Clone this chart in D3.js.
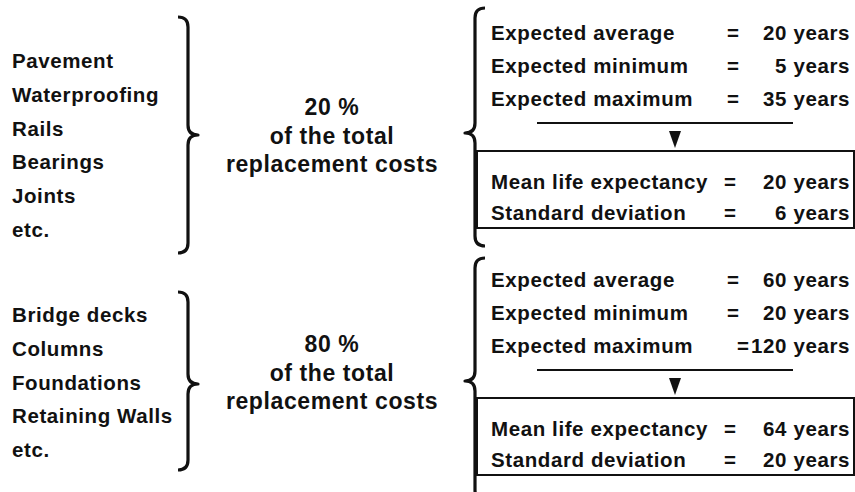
<!DOCTYPE html>
<html>
<head>
<meta charset="utf-8">
<script src="https://cdn.jsdelivr.net/npm/d3@7"></script>
<style>
  body { margin: 0; background: #fff; }
  svg text { font-family: 'Liberation Sans', Arial, sans-serif; font-weight: bold; fill: #111; }
</style>
</head>
<body>
<div id="vis"></div>
<script>
// component groups
var topItems = ['Pavement', 'Waterproofing', 'Rails', 'Bearings', 'Joints', 'etc.'];
var bottomItems = ['Bridge decks', 'Columns', 'Foundations', 'Retaining Walls', 'etc.'];
var shares = ['20 %', '80 %'];
var shareText = ['of the total', 'replacement costs'];

// expected lives (years)
var statLabels = ['Expected average', 'Expected minimum', 'Expected maximum'];
var topStats = [20, 5, 35];
var bottomStats = [60, 20, 120];

// resulting distribution (years)
var resultLabels = ['Mean life expectancy', 'Standard deviation'];
var topResults = [20, 6];
var bottomResults = [64, 20];

var width = 855;
var height = 492;
var fs = 20.5;

var svg = d3.select('#vis').append('svg')
  .attr('width', width)
  .attr('height', height);

var groups = [
  { items: topItems, share: shares[0], stats: topStats, results: topResults,
    listY: [68, 237], brace: [17, 135, 253], shareY: 115, y0: 0, rBrace: [8, 133, 246] },
  { items: bottomItems, share: shares[1], stats: bottomStats, results: bottomResults,
    listY: [322, 457], brace: [292, 384, 470], shareY: 352, y0: 247, rBrace: [258, 381, 500] }
];

// curly brace, dir = 1 points right "}", dir = -1 points left "{"
function bracePath(xs, top, tip, bot, dir) {
  var r = 10, c = 10 * dir, t = 10 * dir;
  return 'M' + (xs - c) + ',' + top +
    ' Q' + xs + ',' + top + ' ' + xs + ',' + (top + r) +
    ' L' + xs + ',' + (tip - r) +
    ' Q' + xs + ',' + tip + ' ' + (xs + t) + ',' + tip +
    ' Q' + xs + ',' + tip + ' ' + xs + ',' + (tip + r) +
    ' L' + xs + ',' + (bot - r) +
    ' Q' + xs + ',' + bot + ' ' + (xs - c) + ',' + bot;
}

groups.forEach(function (g) {
  // left list
  var y = d3.scalePoint()
    .domain(g.items)
    .range(g.listY);

  svg.append('g').selectAll('text')
    .data(g.items)
    .enter().append('text')
    .attr('x', 12)
    .attr('y', function (d) { return y(d); })
    .attr('font-size', fs)
    .attr('letter-spacing', 0.6)
    .text(function (d) { return d; });

  svg.append('path')
    .attr('d', bracePath(188, g.brace[0], g.brace[1], g.brace[2], 1))
    .attr('fill', 'none')
    .attr('stroke', '#111')
    .attr('stroke-width', 3.2)
    .attr('stroke-linejoin', 'round');

  // share of costs
  var centre = svg.append('g').attr('text-anchor', 'middle');
  [g.share].concat(shareText).forEach(function (t, i) {
    centre.append('text')
      .attr('x', 332)
      .attr('y', g.shareY + i * 28.5)
      .attr('font-size', 23)
      .attr('letter-spacing', 0.6)
      .text(t);
  });

  // right brace
  svg.append('path')
    .attr('d', bracePath(475, g.rBrace[0], g.rBrace[1], g.rBrace[2], -1))
    .attr('fill', 'none')
    .attr('stroke', '#111')
    .attr('stroke-width', 3.2)
    .attr('stroke-linejoin', 'round');

  var y0 = g.y0;
  var rowY = d3.scaleLinear().domain([0, 2]).range([y0 + 40, y0 + 106]);
  var boxY = d3.scaleLinear().domain([0, 1]).range([y0 + 189, y0 + 220]);

  function rows(labels, values, yScale, eqX) {
    var gg = svg.append('g');
    labels.forEach(function (lab, i) {
      gg.append('text')
        .attr('x', 491)
        .attr('y', yScale(i))
        .attr('font-size', fs)
        .attr('letter-spacing', 0.6)
        .text(lab);
      var v = gg.append('text')
        .attr('x', 850)
        .attr('y', yScale(i))
        .attr('font-size', fs)
        .attr('letter-spacing', 0.6)
        .attr('text-anchor', 'end')
        .text(values[i] + ' years');
      var start = 850 - v.node().getComputedTextLength();
      // wide values sit right after the equals sign ("=120 years")
      var ex = start < eqX + 22 ? start - 8 : eqX;
      gg.append('text')
        .attr('x', ex)
        .attr('y', yScale(i))
        .attr('font-size', fs)
        .attr('text-anchor', 'middle')
        .text('=');
    });
  }

  rows(statLabels, g.stats, rowY, 733);

  // underline and arrow
  svg.append('line')
    .attr('x1', 537).attr('x2', 793)
    .attr('y1', y0 + 123).attr('y2', y0 + 123)
    .attr('stroke', '#111')
    .attr('stroke-width', 2);

  svg.append('path')
    .attr('d', 'M' + 669 + ',' + (y0 + 131) + ' L' + 681 + ',' + (y0 + 131) + ' L' + 675 + ',' + (y0 + 148) + 'Z')
    .attr('fill', '#111');

  svg.append('rect')
    .attr('x', 477).attr('y', y0 + 151)
    .attr('width', 377).attr('height', 77)
    .attr('fill', 'none')
    .attr('stroke', '#111')
    .attr('stroke-width', 2);

  rows(resultLabels, g.results, boxY, 730);
});
</script>
</body>
</html>
